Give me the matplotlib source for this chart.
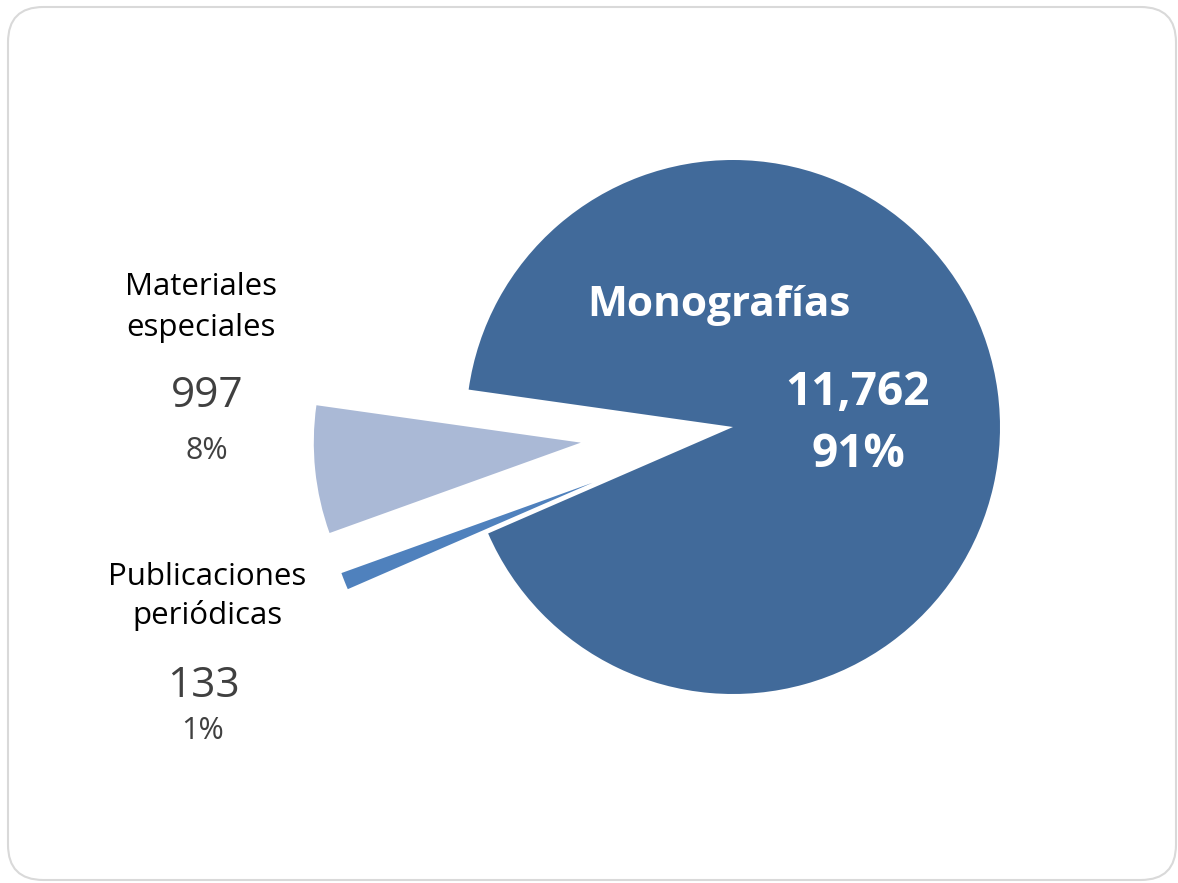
import matplotlib.pyplot as plt
from matplotlib.patches import FancyBboxPatch

# data
categories = ['Monografías', 'Materiales especiales', 'Publicaciones periódicas']
values = [11762, 997, 133]
percents = ['91%', '8%', '1%']
colors = ['#416A9A', '#AAB9D6', '#4F81BD']

W, H = 1178, 883
plt.rcParams['font.family'] = ['Open Sans', 'DejaVu Sans']

fig = plt.figure(figsize=(W / 100, H / 100), dpi=100)
fig.patch.set_facecolor('white')

# rounded frame around the chart area
frame = FancyBboxPatch((8 / W, 3 / H), 1168 / W, 873 / H,
                       boxstyle='round,pad=0,rounding_size=0.03',
                       transform=fig.transFigure, facecolor='none',
                       edgecolor='#D9D9D9', linewidth=1.5,
                       mutation_aspect=W / H, zorder=-1)
fig.patches.append(frame)

ax = fig.add_axes([0, 0, 1, 1])
ax.patch.set_alpha(0)


def py(y):
    # image pixel row -> data y (y up)
    return H - y


radius = 267
center = (733, py(427))
# explode is in data units (pixels here)
ax.pie(values, colors=colors, startangle=-156.5, counterclock=True,
       radius=radius, center=center, explode=[0, 153, 151],
       wedgeprops=dict(linewidth=0), frame=False)
ax.set_xlim(0, W)
ax.set_ylim(0, H)
ax.set_aspect('equal')
ax.axis('off')

# labels
ax.text(719, py(316), categories[0], color='white', fontsize=30.5,
        fontweight='bold', ha='center', va='baseline')
ax.text(858, py(405), f'{values[0]:,}', color='white', fontsize=33,
        fontweight='bold', ha='center', va='baseline')
ax.text(858, py(467), percents[0], color='white', fontsize=33,
        fontweight='bold', ha='center', va='baseline')

ax.text(201, py(295), 'Materiales', color='black', fontsize=22.5,
        ha='center', va='baseline')
ax.text(201, py(336), 'especiales', color='black', fontsize=22.5,
        ha='center', va='baseline')
ax.text(207, py(407), f'{values[1]:,}', color='#404040', fontsize=30.5,
        ha='center', va='baseline')
ax.text(207, py(459), percents[1], color='#404040', fontsize=22,
        ha='center', va='baseline')

ax.text(207, py(585), 'Publicaciones', color='black', fontsize=22.5,
        ha='center', va='baseline')
ax.text(207, py(624), 'periódicas', color='black', fontsize=22.5,
        ha='center', va='baseline')
ax.text(203, py(697), f'{values[2]:,}', color='#404040', fontsize=30.5,
        ha='center', va='baseline')
ax.text(203, py(739), percents[2], color='#404040', fontsize=22,
        ha='center', va='baseline')

fig.savefig('out.png', dpi=100)
